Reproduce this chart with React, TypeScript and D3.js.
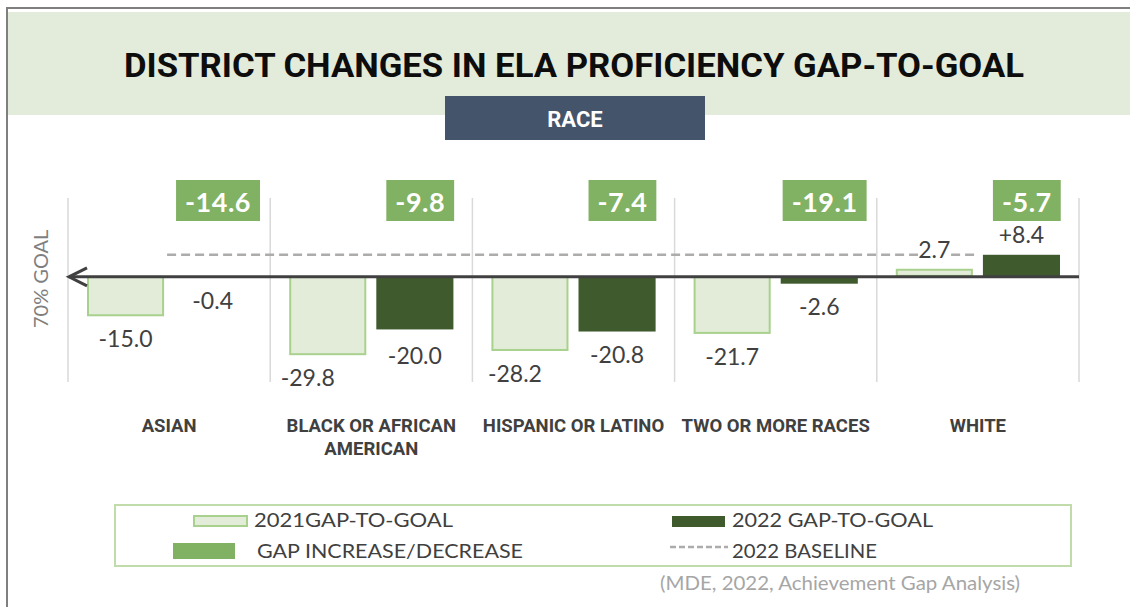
import React, { useEffect, useRef } from "react";
import * as d3 from "d3";

const categories = ["ASIAN", "BLACK OR AFRICAN AMERICAN", "HISPANIC OR LATINO", "TWO OR MORE RACES", "WHITE"];
const categoryLines = [["ASIAN"], ["BLACK OR AFRICAN", "AMERICAN"], ["HISPANIC OR LATINO"], ["TWO OR MORE RACES"], ["WHITE"]];
const series = ["2021", "2022"];
const gap2021 = [-15.0, -29.8, -28.2, -21.7, 2.7];
const gap2022 = [-0.4, -20.0, -20.8, -2.6, 8.4];
const gapChange = [-14.6, -9.8, -7.4, -19.1, -5.7];
const baseline2022 = 8.4;
const legendLabels = ["2021GAP-TO-GOAL", "2022 GAP-TO-GOAL", "GAP INCREASE/DECREASE", "2022 BASELINE"];
const titleText = "DISTRICT CHANGES IN ELA PROFICIENCY GAP-TO-GOAL";
const subtitleText = "RACE";
const axisLabel = "70% GOAL";
const sourceText = "(MDE, 2022, Achievement Gap Analysis)";

const C_LIGHT = "#e2ecd9";
const C_LIGHT_STROKE = "#a9d18e";
const C_DARK = "#3f5a2c";
const C_BOX = "#81b163";
const C_DASH = "#aeabab";
const C_TEXT = "#404040";

export default function App() {
  const ref = useRef<SVGSVGElement>(null);

  useEffect(() => {
    const svg = d3.select(ref.current);
    svg.selectAll("*").remove();

    // Title band & frame
    svg.append("rect").attr("x", 8).attr("y", 12).attr("width", 1122).attr("height", 103).attr("fill", "#e3ebdb");
    svg.append("line").attr("x1", 7).attr("x2", 1130).attr("y1", 8).attr("y2", 8).attr("stroke", "#7f7f7f").attr("stroke-width", 2);
    svg.append("line").attr("x1", 7).attr("x2", 7).attr("y1", 7).attr("y2", 607).attr("stroke", "#7f7f7f").attr("stroke-width", 2);

    svg.append("text").text(titleText)
      .attr("x", 574).attr("y", 77).attr("text-anchor", "middle")
      .attr("font-family", "Roboto").attr("font-weight", 700).attr("font-size", 33)
      .attr("textLength", 900).attr("lengthAdjust", "spacingAndGlyphs")
      .attr("fill", "#0d0d0d");

    svg.append("rect").attr("x", 445).attr("y", 96).attr("width", 260).attr("height", 44).attr("fill", "#44546a");
    svg.append("text").text(subtitleText)
      .attr("x", 575).attr("y", 127).attr("text-anchor", "middle")
      .attr("font-family", "Roboto").attr("font-weight", 700).attr("font-size", 22)
      .attr("fill", "#ffffff");

    // Scales
    const y = d3.scaleLinear().domain([-40, 30]).range([382, 198]);
    const x = d3.scaleBand<string>().domain(categories).range([68, 1079]).paddingInner(0).paddingOuter(0);
    const xs = d3.scaleBand<string>().domain(series).range([0, x.bandwidth()]).paddingInner(0.115).paddingOuter(0.218);

    // Separators
    const sepXs = categories.map((c) => x(c)!).concat([x.range()[1]]);
    svg.append("g").selectAll("line").data(sepXs).join("line")
      .attr("x1", (d) => d).attr("x2", (d) => d)
      .attr("y1", y(30)).attr("y2", y(-40))
      .attr("stroke", "#d9d9d9").attr("stroke-width", 1.5);

    const values = [gap2021, gap2022];

    // Bars
    values.forEach((vals, si) => {
      const g = svg.append("g");
      g.selectAll("rect").data(vals).join("rect")
        .attr("x", (d, i) => x(categories[i])! + xs(series[si])! + (si === 0 ? 1 : 0))
        .attr("width", xs.bandwidth() - (si === 0 ? 2 : 0))
        .attr("y", (d) => Math.min(y(d), y(0)))
        .attr("height", (d) => Math.max(0.5, Math.abs(y(d) - y(0)) - (si === 0 ? 1 : 0)))
        .attr("fill", si === 0 ? C_LIGHT : C_DARK)
        .attr("stroke", si === 0 ? C_LIGHT_STROKE : "none")
        .attr("stroke-width", si === 0 ? 2 : 0);
    });

    // Baseline dashed line
    const dashX1 = x(categories[0])! + xs(series[0])! + xs.bandwidth() + 3;
    const dashX2 = x(categories[categories.length - 1])! + xs(series[1])! - 8;
    svg.append("line")
      .attr("x1", dashX1).attr("x2", dashX2)
      .attr("y1", y(baseline2022)).attr("y2", y(baseline2022))
      .attr("stroke", C_DASH).attr("stroke-width", 2.5).attr("stroke-dasharray", "9,5");

    // Zero line with arrow
    const y0 = y(0);
    svg.append("line").attr("x1", x.range()[0] + 1).attr("x2", x.range()[1]).attr("y1", y0).attr("y2", y0)
      .attr("stroke", C_TEXT).attr("stroke-width", 3);
    svg.append("path")
      .attr("d", `M${x.range()[0] + 19},${y0 - 9} L${x.range()[0] + 1},${y0} L${x.range()[0] + 19},${y0 + 9}`)
      .attr("fill", "none").attr("stroke", C_TEXT).attr("stroke-width", 3).attr("stroke-linejoin", "miter");

    // Value labels
    const nudge: Record<string, [number, number]> = {
      "0-1": [-20, 0],
      "0-2": [-15, 0],
      "1-1": [0, 4],
    };
    values.forEach((vals, si) => {
      vals.forEach((v, i) => {
        const cx = x(categories[i])! + xs(series[si])! + xs.bandwidth() / 2;
        const [dx, dy] = nudge[`${si}-${i}`] || [0, 0];
        const txt = (si === 1 && v > 0 ? "+" : "") + v.toFixed(1);
        const ty = v < 0 ? y(v) + 31 : y(v) - 12;
        const t = svg.append("text").text(txt)
          .attr("x", cx + dx).attr("y", ty + dy).attr("text-anchor", "middle")
          .attr("font-family", "Lato").attr("font-size", 23).attr("fill", C_TEXT);
        if (v > 0 && si === 0) {
          const bb = (t.node() as SVGTextElement).getBBox();
          svg.insert("rect", () => t.node() as any)
            .attr("x", bb.x).attr("y", bb.y + 4).attr("width", bb.width).attr("height", bb.height - 8)
            .attr("fill", "#ffffff");
        }
      });
    });

    // Change boxes
    gapChange.forEach((v, i) => {
      const cx = x(categories[i])! + x.bandwidth() * 0.742;
      const g = svg.append("g");
      const rect = g.append("rect").attr("y", 180).attr("height", 41).attr("fill", C_BOX);
      const t = g.append("text").text(v.toFixed(1))
        .attr("x", cx).attr("y", 212).attr("text-anchor", "middle")
        .attr("font-family", "Lato").attr("font-weight", 700).attr("font-size", 27)
        .attr("letter-spacing", 0.5)
        .attr("fill", "#ffffff");
      const w = (t.node() as SVGTextElement).getComputedTextLength() + 18;
      rect.attr("x", cx - w / 2).attr("width", w);
    });

    // Category labels
    categoryLines.forEach((lines, i) => {
      const cx = x(categories[i])! + x.bandwidth() / 2;
      lines.forEach((ln, li) => {
        svg.append("text").text(ln)
          .attr("x", cx).attr("y", 432 + li * 23).attr("text-anchor", "middle")
          .attr("font-family", "Roboto").attr("font-weight", 700).attr("font-size", 18.5)
          .attr("fill", C_TEXT);
      });
    });

    // Axis label
    svg.append("text").text(axisLabel)
      .attr("transform", `translate(48,${y0 + 2}) rotate(-90)`)
      .attr("text-anchor", "middle")
      .attr("font-family", "Lato").attr("font-size", 20).attr("fill", "#7f7f7f");

    // Legend
    svg.append("rect").attr("x", 115).attr("y", 505).attr("width", 956).attr("height", 61)
      .attr("fill", "none").attr("stroke", "#c0dcab").attr("stroke-width", 2);
    const lg = svg.append("g");
    lg.append("rect").attr("x", 194).attr("y", 516).attr("width", 53).attr("height", 10)
      .attr("fill", C_LIGHT).attr("stroke", C_LIGHT_STROKE).attr("stroke-width", 2);
    lg.append("rect").attr("x", 672).attr("y", 516).attr("width", 53).attr("height", 11).attr("fill", C_DARK);
    lg.append("rect").attr("x", 173).attr("y", 543).attr("width", 62).attr("height", 16).attr("fill", C_BOX);
    lg.append("line").attr("x1", 670).attr("x2", 728).attr("y1", 547).attr("y2", 547)
      .attr("stroke", C_DASH).attr("stroke-width", 2.5).attr("stroke-dasharray", "6,3");
    const legendPos: [number, number, number][] = [
      [254, 527, 199],
      [732, 527, 201],
      [257, 558, 266],
      [732, 558, 145],
    ];
    legendLabels.forEach((lab, i) => {
      const [lx, ly, lw] = legendPos[i];
      lg.append("text").text(lab).attr("x", lx).attr("y", ly)
        .attr("font-family", "Lato").attr("font-size", 19)
        .attr("textLength", lw).attr("lengthAdjust", "spacingAndGlyphs")
        .attr("fill", C_TEXT);
    });

    // Source
    svg.append("text").text(sourceText).attr("x", 660).attr("y", 590)
      .attr("font-family", "Lato").attr("font-size", 19)
      .attr("textLength", 360).attr("lengthAdjust", "spacingAndGlyphs")
      .attr("fill", "#a6a6a6");
  }, []);

  return (
    <svg
      ref={ref}
      width={1130}
      height={607}
      style={{ position: "absolute", left: 0, top: 0, display: "block", background: "#ffffff" }}
    />
  );
}
